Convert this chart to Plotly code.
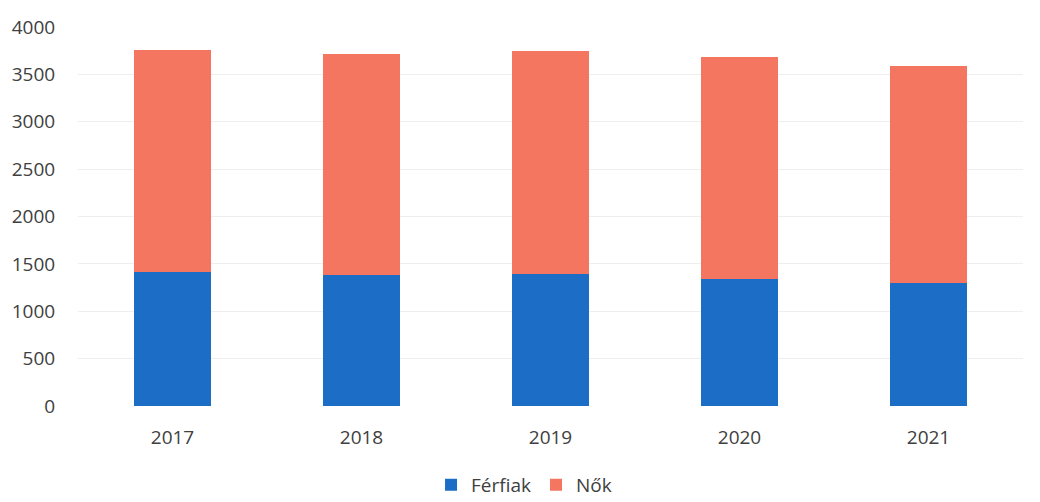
import plotly.graph_objects as go

years = ["2017", "2018", "2019", "2020", "2021"]
ferfiak = [1410, 1385, 1395, 1340, 1300]
nok = [2345, 2326, 2351, 2343, 2287]
y_ticks = [0, 500, 1000, 1500, 2000, 2500, 3000, 3500, 4000]

BLUE = "#1C6DC5"
SALMON = "#F47560"
FONT = "Open Sans"

fig = go.Figure()
fig.add_trace(go.Bar(x=years, y=ferfiak, name="Férfiak", marker_color=BLUE, marker_line_width=0))
fig.add_trace(go.Bar(x=years, y=nok, name="Nők", marker_color=SALMON, marker_line_width=0))

fig.update_layout(
    barmode="stack",
    bargap=0.59,
    width=1032, height=494,
    margin=dict(l=70, r=17, t=19, b=96, autoexpand=False),
    paper_bgcolor="white", plot_bgcolor="white",
    font=dict(family=FONT, size=19, color="#404040"),
    legend=dict(orientation="h", x=0.472, xanchor="center", y=-0.208, yanchor="middle",
                font=dict(size=19, color="#404040"), itemwidth=30, traceorder="normal",
                tracegroupgap=0),
    showlegend=True,
)
fig.update_xaxes(type="category", showgrid=False, showline=False, zeroline=False,
                 automargin=False,
                 ticks="outside", ticklen=14, tickcolor="rgba(0,0,0,0)",
                 tickfont=dict(size=19, color="#404040"))
fig.update_yaxes(range=[0, 4000], tickvals=y_ticks, showgrid=True, gridcolor="#EEEEEE",
                 gridwidth=1, zeroline=False, showline=False, automargin=False,
                 ticks="outside", ticklen=18, tickcolor="rgba(0,0,0,0)",
                 tickfont=dict(size=19, color="#404040"))

fig.write_html("out.html")
